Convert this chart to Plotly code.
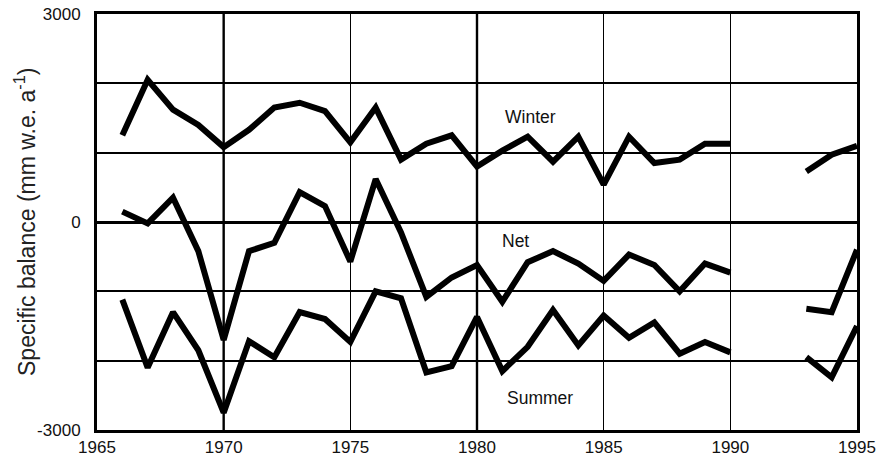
import plotly.graph_objects as go

# Mass balance series (mm w.e. per year); 1991-1992 have no record
years = list(range(1966, 1996))
winter = [1250, 2050, 1620, 1400, 1080, 1330, 1650, 1720, 1600, 1150,
          1650, 900, 1130, 1250, 800, 1030, 1230, 870, 1230, 540,
          1230, 850, 900, 1130, 1130, None, None, 730, 970, 1100]
net = [150, -20, 350, -420, -1700, -420, -300, 430, 230, -570,
       620, -150, -1080, -800, -620, -1150, -580, -420, -600, -850,
       -470, -620, -1000, -600, -730, None, None, -1250, -1300, -400]
summer = [-1120, -2100, -1300, -1850, -2750, -1720, -1950, -1300, -1400, -1730,
          -1000, -1100, -2170, -2080, -1370, -2150, -1800, -1270, -1780, -1350,
          -1670, -1450, -1900, -1730, -1880, None, None, -1950, -2240, -1500]

series_labels = ["Winter", "Net", "Summer"]
label_x = [1982.1, 1981.5, 1982.5]
label_y = [1515, -270, -2540]

x_ticks = [1965, 1970, 1975, 1980, 1985, 1990, 1995]
y_ticks = [-3000, 0, 3000]
y_tick_text = ["-3000", "0", "3000"]
y_grid_step = 1000
major_years = [1970, 1980]

FONT = "Liberation Sans Narrow, Arial Narrow, Liberation Sans, Arial, sans-serif"

fig = go.Figure()
for name, vals in zip(series_labels, [winter, net, summer]):
    fig.add_trace(go.Scatter(
        x=years, y=vals, mode="lines", name=name,
        line=dict(color="black", width=6),
        connectgaps=False, showlegend=False,
    ))

# heavier vertical rules at the decades
for yr in major_years:
    fig.add_shape(type="line", xref="x", yref="paper", x0=yr, x1=yr, y0=0, y1=1,
                  line=dict(color="black", width=2.4), layer="below")

for txt, lx, ly in zip(series_labels, label_x, label_y):
    fig.add_annotation(x=lx, y=ly, xref="x", yref="y", text=txt, showarrow=False,
                       font=dict(family=FONT, size=17.5, color="#111"))

fig.add_annotation(x=(25 - 97) / 760, y=0.5, xref="paper", yref="paper",
                   xanchor="center", yanchor="middle",
                   text="Specific balance (mm w.e. a<sup>-1</sup>)",
                   textangle=-90, showarrow=False,
                   font=dict(family=FONT, size=23, color="#222"))

fig.update_layout(
    width=878, height=459,
    margin=dict(l=97, r=21, t=14, b=29),
    paper_bgcolor="white", plot_bgcolor="white",
    font=dict(family=FONT, size=17, color="black"),
    xaxis=dict(range=[1965, 1995], tickvals=x_ticks, ticks="", automargin=False,
               showgrid=True, gridcolor="black", gridwidth=1.2,
               showline=True, linecolor="black", linewidth=3, mirror=True,
               zeroline=False, tickfont=dict(family=FONT, size=17, color="#111")),
    yaxis=dict(range=[-3000, 3000], tickvals=y_ticks, ticktext=y_tick_text, ticks="",
               automargin=False, ticklabelstandoff=10,
               showgrid=True, gridcolor="black", gridwidth=2,
               minor=dict(tick0=0, dtick=y_grid_step, showgrid=True,
                          gridcolor="black", gridwidth=2, ticks=""),
               zeroline=True, zerolinecolor="black", zerolinewidth=3,
               showline=True, linecolor="black", linewidth=3, mirror=True,
               tickfont=dict(family=FONT, size=17, color="#111")),
)

fig.write_html("out.html")
